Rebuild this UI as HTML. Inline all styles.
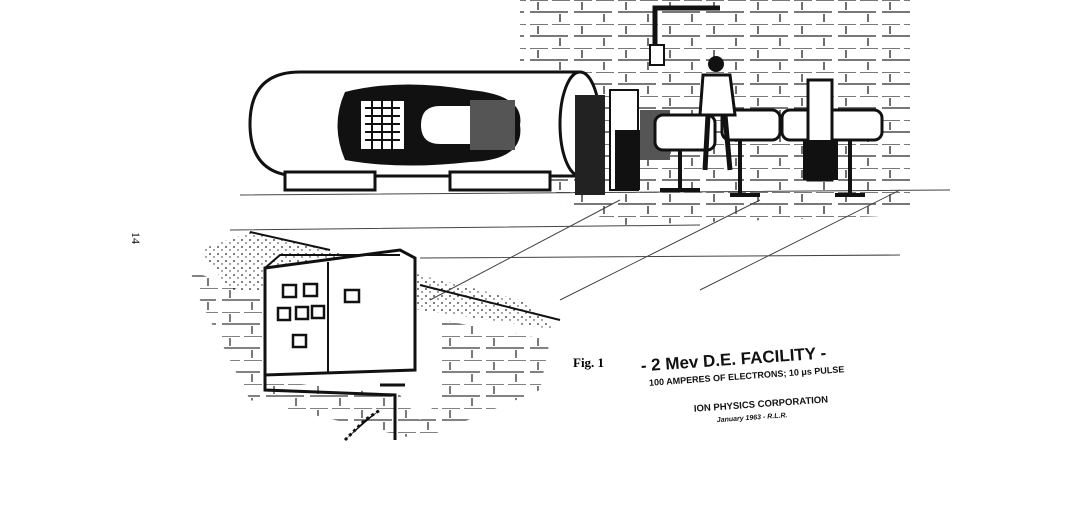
<!DOCTYPE html>
<html><head><meta charset="utf-8"><style>
html,body{margin:0;padding:0;background:#fff;}
svg{display:block}
</style></head><body>
<svg width="1078" height="516" viewBox="0 0 1078 516" xmlns="http://www.w3.org/2000/svg">
<defs>
<pattern id="brick" width="44" height="24" patternUnits="userSpaceOnUse">
<path d="M2 0H20M24 0H42M2 12H40M10 2V10M32 14V22" stroke="#111" stroke-width="1.6" fill="none"/>
</pattern>
<pattern id="dots" width="8" height="7" patternUnits="userSpaceOnUse">
<circle cx="2" cy="2" r="0.9" fill="#222"/><circle cx="6" cy="5" r="0.7" fill="#222"/>
</pattern>
</defs>
<rect width="1078" height="516" fill="#fff"/>
<!-- back brick wall -->
<polygon points="520,0 910,0 910,215 620,225 560,200 520,120" fill="url(#brick)" opacity="0.75"/>
<!-- pipe -->
<path d="M655 60V8H720" stroke="#111" stroke-width="5" fill="none"/>
<rect x="650" y="45" width="14" height="20" fill="#fff" stroke="#111" stroke-width="2"/>
<!-- floor lines -->
<path d="M240 195L950 190M230 230L700 225M420 258L900 255M560 300L760 200M430 300L620 200M700 290L900 190" stroke="#444" stroke-width="1" fill="none"/>
<!-- tank -->
<path d="M300 72H580V176H300Q250 176 250 124Q250 72 300 72Z" fill="#fff" stroke="#111" stroke-width="3"/>
<ellipse cx="580" cy="124" rx="20" ry="52" fill="#fff" stroke="#111" stroke-width="3"/>
<path d="M345 92Q400 78 470 90Q525 95 520 125Q525 160 470 162Q400 170 345 160Q330 125 345 92Z" fill="#111"/>
<rect x="360" y="100" width="45" height="50" fill="#fff" stroke="#111" stroke-width="2"/>
<path d="M365 108H400M365 116H400M365 124H400M365 132H400M365 140H400M372 100V150M382 100V150M392 100V150" stroke="#111" stroke-width="2"/>
<path d="M440 105H490V145H440Q420 145 420 125Q420 105 440 105Z" fill="#fff" stroke="#111" stroke-width="2"/>
<rect x="470" y="100" width="45" height="50" fill="#555"/>
<!-- tank supports -->
<rect x="285" y="172" width="90" height="18" fill="#fff" stroke="#111" stroke-width="3"/>
<rect x="450" y="172" width="100" height="18" fill="#fff" stroke="#111" stroke-width="3"/>
<!-- equipment -->
<rect x="575" y="95" width="30" height="100" fill="#222"/>
<rect x="610" y="90" width="28" height="100" fill="#fff" stroke="#111" stroke-width="2"/>
<rect x="615" y="130" width="25" height="60" fill="#111"/>
<rect x="640" y="110" width="30" height="50" fill="#555"/>
<rect x="655" y="115" width="60" height="35" rx="8" fill="#fff" stroke="#111" stroke-width="3"/>
<rect x="722" y="110" width="58" height="30" rx="8" fill="#fff" stroke="#111" stroke-width="3"/>
<rect x="782" y="110" width="100" height="30" rx="8" fill="#fff" stroke="#111" stroke-width="3"/>
<rect x="808" y="80" width="24" height="100" fill="#fff" stroke="#111" stroke-width="3"/>
<rect x="803" y="140" width="35" height="40" fill="#111"/>
<path d="M680 150V190M740 140V195M850 140V195M660 190H700M730 195H760M835 195H865" stroke="#111" stroke-width="4"/>
<!-- person -->
<circle cx="716" cy="64" r="8" fill="#111"/>
<path d="M703 75H730L735 115H700Z" fill="#fff" stroke="#111" stroke-width="3"/>
<path d="M708 115L705 170M725 115L730 170" stroke="#111" stroke-width="5"/>
<!-- sand -->
<polygon points="200,250 250,232 330,250 420,275 520,300 560,330 420,310 320,290 230,290" fill="url(#dots)"/>
<path d="M250 232L330 250M420 285L560 320" stroke="#111" stroke-width="2"/>
<!-- lower brick wall -->
<polygon points="190,270 265,300 265,380 400,395 420,420 440,400 440,320 550,340 540,390 420,440 250,400 200,300" fill="url(#brick)" opacity="0.7"/>
<!-- cabinet -->
<polygon points="265,268 400,250 415,258 415,370 265,375" fill="#fff" stroke="#111" stroke-width="3"/>
<path d="M328 262V372M265 268L280 255H400" stroke="#111" stroke-width="2" fill="none"/>
<g fill="#fff" stroke="#111" stroke-width="2.5">
<rect x="283" y="285" width="13" height="12"/><rect x="304" y="284" width="13" height="12"/>
<rect x="278" y="308" width="12" height="12"/><rect x="296" y="307" width="12" height="12"/><rect x="312" y="306" width="12" height="12"/>
<rect x="293" y="335" width="13" height="12"/><rect x="345" y="290" width="14" height="12"/>
</g>
<path d="M265 375L265 390L395 395V440M380 385L405 385" stroke="#111" stroke-width="3" fill="none"/>
<path d="M345 440L365 420L380 410" stroke="#111" stroke-width="3" stroke-dasharray="3 3"/>
<!-- text -->
<text x="132" y="232" font-family="Liberation Serif,serif" font-size="12" transform="rotate(90 132 232)">14</text>
<text x="573" y="367" font-family="Liberation Serif,serif" font-size="13" font-weight="bold">Fig. 1</text>
<g transform="rotate(-4 760 350)" font-family="Liberation Sans,sans-serif" font-weight="bold" fill="#111">
<text x="640" y="363" font-size="17">-  2 Mev  D.E. FACILITY -</text>
<text x="647" y="378" font-size="9">100 AMPERES OF ELECTRONS; 10 μs PULSE</text>
<text x="690" y="407" font-size="9.5">ION PHYSICS CORPORATION</text>
<text x="712" y="419" font-size="7" font-style="italic">January 1963 - R.L.R.</text>
</g>
</svg>
</body></html>
